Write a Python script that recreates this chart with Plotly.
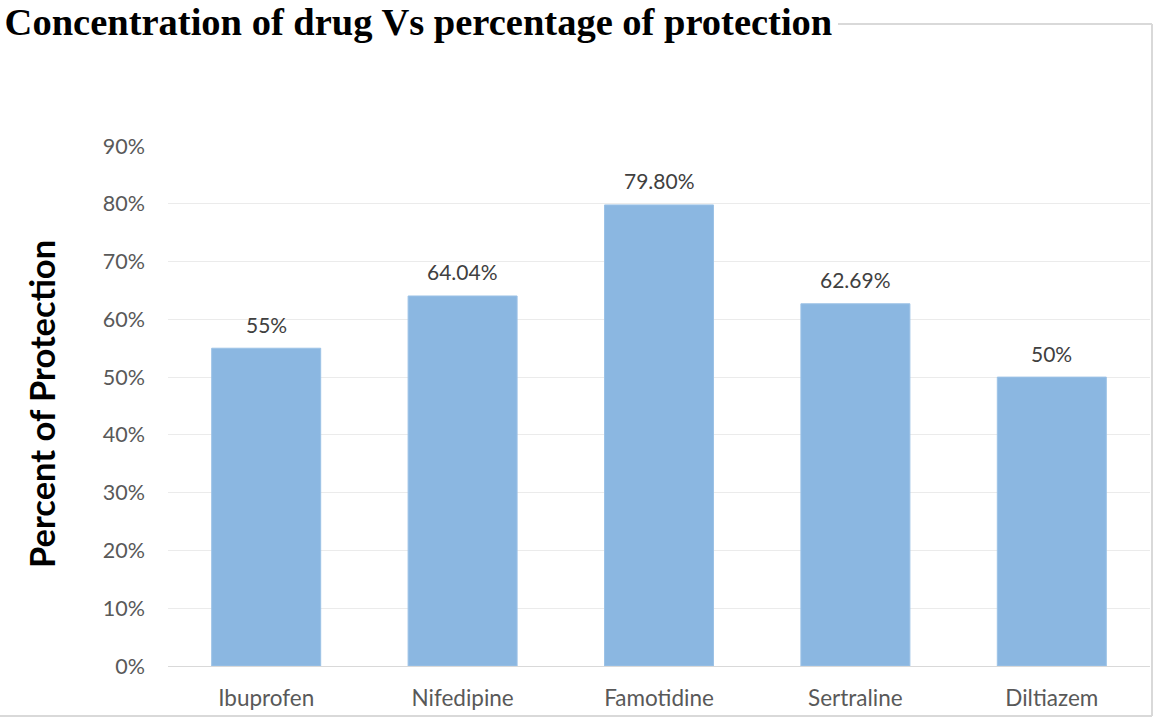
import plotly.graph_objects as go

drugs = ["Ibuprofen", "Nifedipine", "Famotidine", "Sertraline", "Diltiazem"]
protection = [0.55, 0.6404, 0.798, 0.6269, 0.50]
value_labels = ["55%", "64.04%", "79.80%", "62.69%", "50%"]
y_ticks = [0, 0.1, 0.2, 0.3, 0.4, 0.5, 0.6, 0.7, 0.8, 0.9]
y_tick_labels = ["0%", "10%", "20%", "30%", "40%", "50%", "60%", "70%", "80%", "90%"]

W, H = 1153, 717
L, R, T, B = 168, 3, 146, 51
pw, ph = W - L - R, H - T - B

def px(x):
    return (x - L) / pw

def py(y):
    return (H - B - y) / ph

fig = go.Figure()
fig.add_trace(go.Bar(
    x=drugs, y=protection,
    marker=dict(color="#8BB7E1", line=dict(color="#9CC2E6", width=1)),
    hoverinfo="skip",
))

frame = "#D9D9D9"
shapes = [
    dict(type="line", xref="paper", yref="paper", x0=px(838), x1=px(1152), y0=py(24), y1=py(24),
         line=dict(color=frame, width=2)),
    dict(type="line", xref="paper", yref="paper", x0=px(1152), x1=px(1152), y0=py(24), y1=py(716),
         line=dict(color=frame, width=2)),
    dict(type="line", xref="paper", yref="paper", x0=px(0), x1=px(1152), y0=py(716), y1=py(716),
         line=dict(color=frame, width=2)),
]

annotations = [dict(text="<b>Percent of Protection</b>", xref="paper", yref="paper",
                    x=px(41), y=py(404), textangle=-90, showarrow=False,
                    xanchor="center", yanchor="middle",
                    font=dict(family="Lato", size=34.5, color="black"))]
for d, v, t in zip(drugs, protection, value_labels):
    annotations.append(dict(x=d, y=v, text=t, showarrow=False, xanchor="center",
                            yanchor="middle", yshift=24,
                            font=dict(family="Lato", size=21, color="#404040")))

fig.update_layout(
    width=W, height=H,
    margin=dict(l=L, r=R, t=T, b=B),
    paper_bgcolor="white", plot_bgcolor="white",
    bargap=0.445,
    showlegend=False,
    shapes=shapes,
    annotations=annotations,
    title=dict(text="<b>Concentration of drug Vs percentage of protection</b>",
               font=dict(family="Liberation Serif", size=38.5, color="black"),
               xref="container", x=0.004, xanchor="left",
               yref="container", y=1 - 22 / H, yanchor="middle"),
    xaxis=dict(showgrid=False, showline=True, linecolor="#D9D9D9", linewidth=1,
               ticks="", ticklabelstandoff=12,
               tickfont=dict(family="Lato", size=22.5, color="#595959")),
    yaxis=dict(range=[0, 0.9], tickvals=y_ticks, ticktext=y_tick_labels,
               showgrid=True, gridcolor="#EBEBEB", gridwidth=1,
               zeroline=False, showline=False, ticks="", ticklabelstandoff=22,
               tickfont=dict(family="Lato", size=21.5, color="#595959")),
)

fig.write_html("out.html", config={"displayModeBar": False},
               post_script="document.body.style.margin='0';document.body.style.overflow='hidden';")
